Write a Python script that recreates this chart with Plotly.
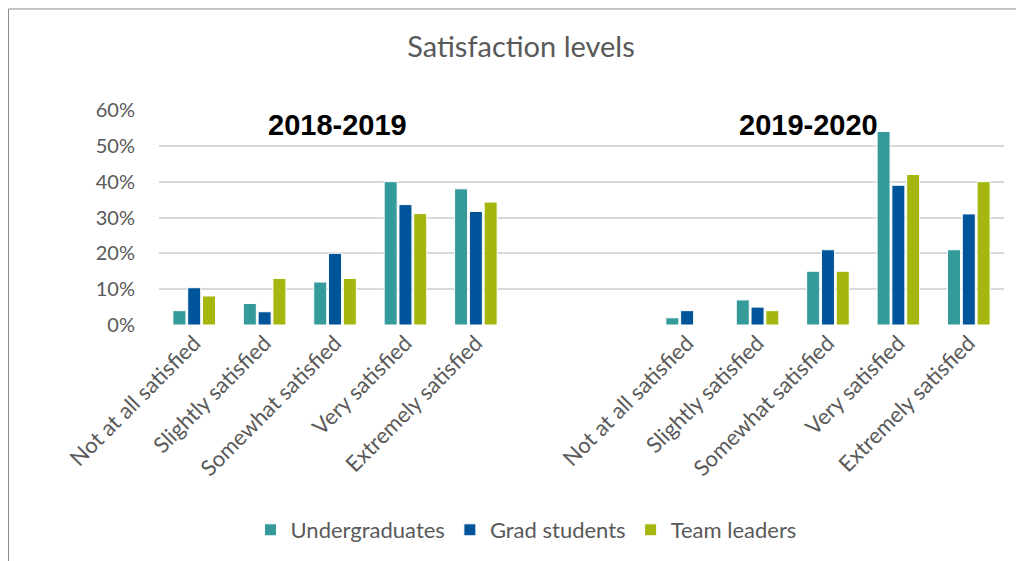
import plotly.graph_objects as go

categories = ["Not at all satisfied", "Slightly satisfied", "Somewhat satisfied",
              "Very satisfied", "Extremely satisfied"]
years = ["2018-2019", "2019-2020"]
series_names = ["Undergraduates", "Grad students", "Team leaders"]
colors = ["#349A9A", "#005499", "#A5B70F"]

# values in fraction (0.10 = 10%)
undergrad_2018 = [0.04, 0.06, 0.12, 0.40, 0.38]
grad_2018 = [0.104, 0.037, 0.20, 0.336, 0.317]
leaders_2018 = [0.081, 0.13, 0.13, 0.311, 0.343]
undergrad_2019 = [0.02, 0.07, 0.15, 0.54, 0.21]
grad_2019 = [0.04, 0.05, 0.21, 0.39, 0.31]
leaders_2019 = [0.0, 0.04, 0.15, 0.42, 0.40]

y_ticks = [0, 0.1, 0.2, 0.3, 0.4, 0.5, 0.6]

# slot positions: 5 categories, 2 empty slots, 5 categories
gap_slots = 2
pos_2018 = list(range(len(categories)))
pos_2019 = [len(categories) + gap_slots + i for i in range(len(categories))]
all_pos = pos_2018 + pos_2019
all_labels = categories + categories

series_values = [
    undergrad_2018 + undergrad_2019,
    grad_2018 + grad_2019,
    leaders_2018 + leaders_2019,
]

fig = go.Figure()
for name, color, vals in zip(series_names, colors, series_values):
    fig.add_trace(go.Bar(
        x=all_pos, y=vals, name=name,
        marker=dict(color=color, line=dict(color="white", width=1)),
    ))

grey = "#595959"
OFF = 8  # page body margin
W, H = 1024 - OFF, 561 - OFF
L = 159 - OFF
R = W - (1004 - OFF)
T = 110 - OFF
B = H - (326 - OFF)
pw, ph = W - L - R, H - T - B


def px_to_paper_x(px):
    return (px - OFF - L) / pw


def px_to_paper_y(py):
    return (H - B - (py - OFF)) / ph


fig.update_layout(
    width=W, height=H,
    margin=dict(l=L, r=R, t=T, b=B, pad=0),
    paper_bgcolor="white", plot_bgcolor="white",
    barmode="group", bargap=0.37, bargroupgap=0.12,
    font=dict(family="Lato, Carlito, sans-serif", color=grey, size=20),
    title=dict(text="Satisfaction levels", x=px_to_paper_x(521), xref="paper",
               xanchor="center", y=1 - (47 - OFF) / H, yanchor="middle",
               font=dict(size=29, color=grey, family="Lato, sans-serif")),
    xaxis=dict(range=[-0.5, all_pos[-1] + 0.5], tickmode="array",
               tickvals=all_pos, ticktext=all_labels, tickangle=-45,
               showgrid=False, zeroline=False, showline=False, ticks="",
               tickfont=dict(size=22, color=grey)),
    yaxis=dict(range=[0, 0.6], tickmode="array", tickvals=y_ticks,
               tickformat=".0%", showgrid=True, gridcolor="#D9D9D9",
               gridwidth=1.5, zeroline=False, showline=False, ticks="",
               ticklabelstandoff=23, tickfont=dict(size=20, color=grey)),
    legend=dict(orientation="h", x=px_to_paper_x(526), xanchor="center",
                y=px_to_paper_y(530), yanchor="middle",
                font=dict(size=22, color=grey), itemwidth=30,
                traceorder="normal"),
    annotations=[
        dict(text="<b>" + years[0] + "</b>", x=px_to_paper_x(337), y=px_to_paper_y(125),
             xref="paper", yref="paper", xanchor="center", yanchor="middle",
             showarrow=False,
             font=dict(family="Liberation Sans, Arial, sans-serif", size=29, color="black")),
        dict(text="<b>" + years[1] + "</b>", x=px_to_paper_x(808), y=px_to_paper_y(125),
             xref="paper", yref="paper", xanchor="center", yanchor="middle",
             showarrow=False,
             font=dict(family="Liberation Sans, Arial, sans-serif", size=29, color="black")),
    ],
    shapes=[dict(type="rect", xref="paper", yref="paper",
                 x0=px_to_paper_x(8.5), x1=px_to_paper_x(1020),
                 y0=px_to_paper_y(575), y1=px_to_paper_y(8.5),
                 line=dict(color="#8C8C8C", width=1), fillcolor="rgba(0,0,0,0)",
                 layer="below")],
)

fig.write_html("out.html")
